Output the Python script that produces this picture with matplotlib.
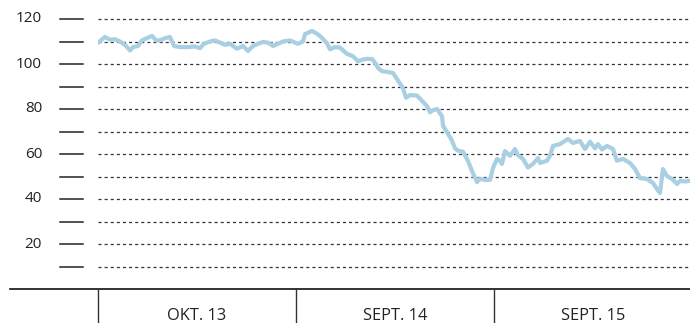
import matplotlib
matplotlib.use("Agg")
import matplotlib.pyplot as plt
from matplotlib.lines import Line2D
import matplotlib.transforms as mtransforms

plt.rcParams['font.family'] = ['Open Sans', 'DejaVu Sans']
plt.rcParams['lines.scale_dashes'] = False

# Oil price index, months since the start of the series
months = [0, 0.18, 0.42, 0.73, 1.03, 1.33, 1.64, 1.94, 2.12, 2.42, 2.67, 2.97,
          3.27, 3.52, 3.76, 4.06, 4.36, 4.61, 4.97, 5.45, 5.88, 6.18, 6.42,
          6.79, 7.09, 7.39, 7.70, 8.00, 8.42, 8.79, 9.09, 9.39, 9.70, 10.00,
          10.30, 10.61, 10.91, 11.21, 11.64, 11.94, 12.12, 12.42, 12.55, 12.97,
          13.33, 13.58, 13.88, 14.06, 14.36, 14.67, 15.09, 15.45, 15.76, 16.06,
          16.30, 16.61, 16.85, 16.97, 17.21, 17.52, 17.88, 18.12, 18.48, 18.67,
          18.91, 19.33, 19.64, 19.94, 20.12, 20.30, 20.55, 20.73, 20.85, 20.91,
          21.21, 21.45, 21.64, 21.82, 22.12, 22.42, 22.67, 22.97, 23.15, 23.45,
          23.76, 23.94, 24.18, 24.36, 24.48, 24.67, 24.97, 25.27, 25.45, 25.76,
          26.06, 26.36, 26.67, 26.79, 27.21, 27.39, 27.58, 28.00, 28.48, 28.79,
          29.21, 29.52, 29.82, 30.12, 30.30, 30.55, 30.85, 31.21, 31.45, 31.82,
          32.24, 32.55, 32.85, 33.27, 33.64, 33.88, 34.06, 34.24, 34.48, 34.79,
          35.09, 35.27, 35.58, 35.82]
index = [109.5, 110.5, 112, 110.8, 111, 110, 108.5, 106, 107.5, 108, 110.5, 111.5,
         112.5, 110.5, 110.5, 111.5, 112, 108, 107.5, 107.5, 107.8, 107, 109,
         110, 110.5, 109.5, 108.5, 109, 106.8, 108, 105.8, 108, 109, 109.8,
         109.5, 108, 109, 110, 110.5, 109.5, 109, 110, 113.3, 114.7,
         113.2, 111.5, 109.2, 106.5, 107.5, 107.3, 104.5, 103.5, 101.2, 102,
         102.3, 102.2, 100, 98.2, 96.8, 96.5, 96, 93.3, 89.3, 85,
         86.2, 86, 83.6, 81.3, 78.5, 79.5, 80, 78, 76.8, 72.5,
         69, 66, 62.5, 61.5, 61, 57, 52.4, 47.5, 49, 48.5,
         48.5, 53.8, 57.8, 57, 55.6, 61.3, 59.2, 62.2, 59.5, 57.8,
         54, 55.6, 58.2, 56, 57, 59.1, 63.6, 64.4, 66.7, 64.9,
         65.8, 62.2, 65.5, 62.5, 64.4, 62, 63.6, 62.2, 57, 57.8,
         56, 53.3, 49.3, 48.9, 47.1, 44.4, 42.7, 53.3, 50.2, 48.9,
         46.7, 48, 47.8, 48]

grid_levels = [10, 20, 30, 40, 50, 60, 70, 80, 90, 100, 110, 120]
label_levels = [20, 40, 60, 80, 100, 120]
period_edges = [0, 12, 24, 36]
period_centers = [6, 18, 30]
period_labels = ["OKT. 13", "SEPT. 14", "SEPT. 15"]

W, H = 690, 323
fig = plt.figure(figsize=(W / 100, H / 100), dpi=100)
ax = fig.add_axes([98 / W, (H - 289) / H, 594 / W, 288 / H])
ax.set_xlim(0, 36)
ax.set_ylim(0, 128)
ax.axis("off")

# dashed horizontal grid
for lv in grid_levels:
    ax.axhline(lv, color="#333333", lw=0.9, linestyle=(0, (2.2, 2.2)), zorder=1)

# short tick marks and labels to the left of the plot
trans = mtransforms.blended_transform_factory(fig.transFigure, ax.transData)
for lv in grid_levels:
    fig.add_artist(Line2D([60 / W, 83 / W], [lv, lv], transform=trans,
                          color="#222222", lw=1.1))
for lv in label_levels:
    fig.text(42 / W, lv, str(lv), transform=trans, ha="right", va="center",
             fontsize=11, color="#222222")

# baseline
fig.add_artist(Line2D([10 / W, 1.0], [0, 0], transform=trans,
                      color="#111111", lw=1.2))

# period separators below the baseline
trans_x = mtransforms.blended_transform_factory(ax.transData, fig.transFigure)
for e in period_edges:
    fig.add_artist(Line2D([e, e], [0, (H - 289) / H], transform=trans_x,
                          color="#333333", lw=1.0))
for c, lab in zip(period_centers, period_labels):
    fig.text(c, (H - 316) / H, lab, transform=trans_x, ha="center", va="center",
             fontsize=11.8, color="#222222")

ax.plot(months, index, color="#a8cfe2", lw=3.0, solid_joinstyle="round",
        zorder=3)

fig.savefig("out.png", dpi=100)
